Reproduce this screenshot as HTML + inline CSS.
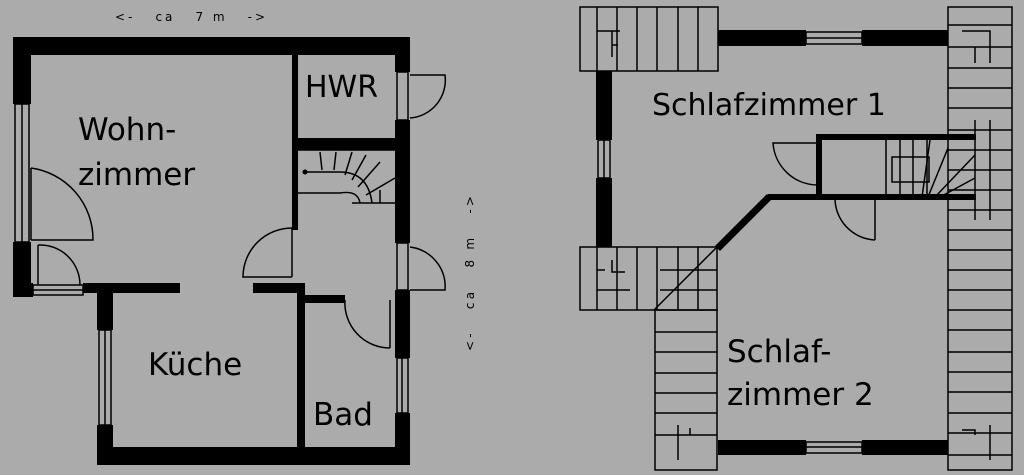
<!DOCTYPE html>
<html><head><meta charset="utf-8"><style>
html,body{margin:0;padding:0;background:#ababab;}
svg{display:block}
text{font-family:"DejaVu Sans","Liberation Sans",sans-serif;fill:#000}
</style></head><body>
<svg width="1024" height="475" viewBox="0 0 1024 475" xmlns="http://www.w3.org/2000/svg">
<rect width="1024" height="475" fill="#ababab"/>

<!-- LEFT PLAN -->
<g fill="#000">
<rect x="13" y="37" width="397" height="18"/>
<rect x="13" y="37" width="18" height="67"/>
<rect x="13" y="242" width="18" height="55"/>
<rect x="13" y="283" width="20" height="14"/>
<rect x="83" y="283" width="97" height="10"/>
<rect x="97" y="283" width="16" height="47"/>
<rect x="97" y="425" width="16" height="40"/>
<rect x="97" y="447" width="313" height="18"/>
<rect x="395" y="37" width="15" height="35"/>
<rect x="395" y="120" width="15" height="123"/>
<rect x="395" y="290" width="15" height="68"/>
<rect x="395" y="413" width="15" height="52"/>
<rect x="292" y="55" width="6" height="175"/>
<rect x="297" y="138" width="98" height="12"/>
<rect x="253" y="283" width="50" height="10"/>
<rect x="297" y="283" width="8" height="164"/>
<rect x="303" y="295" width="42" height="8"/>
</g>
<g fill="none" stroke="#000" stroke-width="1.5">
<rect x="15" y="104" width="14" height="138"/>
<line x1="22" y1="104" x2="22" y2="242"/>
<rect x="33" y="285" width="50" height="10"/>
<line x1="33" y1="290" x2="83" y2="290"/>
<rect x="99" y="330" width="12" height="95"/>
<line x1="105" y1="330" x2="105" y2="425"/>
<rect x="397" y="72" width="11" height="48"/>
<rect x="397" y="243" width="11" height="47"/>
<rect x="397" y="358" width="11" height="55"/>
<line x1="402" y1="358" x2="402" y2="413"/>
<line x1="31" y1="168" x2="31" y2="240"/>
<path d="M31 168 A72 72 0 0 1 93 240 L31 240"/>
<line x1="38" y1="245" x2="38" y2="285"/>
<path d="M38 245 A40 40 0 0 1 80 285"/>
<line x1="292" y1="228" x2="292" y2="277"/>
<path d="M292 228 A49 49 0 0 0 243 277 L292 277"/>
<path d="M410 75 L445 75 A38 38 0 0 1 410 118"/>
<path d="M410 247 A40 40 0 0 1 445 290 L410 290"/>
<line x1="390" y1="300" x2="390" y2="348"/>
<path d="M345 300 A45 45 0 0 0 390 348"/>
<line x1="298" y1="193" x2="340" y2="193"/>
<path d="M340 193 Q358 190 360 203"/>
<path d="M352 203 L395 203"/>
<path d="M298 150 L395 150"/>
<line x1="305" y1="172" x2="340" y2="172"/>
<path d="M340 172 Q368 172 372 203"/>
<line x1="320" y1="152" x2="322" y2="170"/>
<line x1="336" y1="152" x2="334" y2="170"/>
<line x1="352" y1="152" x2="345" y2="175"/>
<line x1="366" y1="155" x2="352" y2="180"/>
<line x1="380" y1="162" x2="358" y2="187"/>
<line x1="395" y1="178" x2="366" y2="195"/>
<line x1="380" y1="203" x2="380" y2="190"/>
</g>
<circle cx="305" cy="172" r="2.5" fill="#000"/>

<text x="115" y="21" font-size="12" textLength="150" lengthAdjust="spacing" xml:space="preserve">&lt;-   ca   7 m   -&gt;</text>
<text x="305" y="97" font-size="30">HWR</text>
<text x="78" y="140" font-size="31">Wohn-</text>
<text x="78" y="185" font-size="31">zimmer</text>
<text x="148" y="375" font-size="31">Küche</text>
<text x="313" y="425" font-size="31">Bad</text>
<text transform="translate(474,351) rotate(-90)" font-size="12" textLength="155" lengthAdjust="spacing" xml:space="preserve">&lt;-   ca   8 m   -&gt;</text>

<!-- RIGHT PLAN -->
<g fill="#000">
<rect x="718" y="30" width="88" height="16"/>
<rect x="862" y="30" width="86" height="16"/>
<rect x="718" y="440" width="88" height="15"/>
<rect x="862" y="440" width="86" height="15"/>
<rect x="596" y="71" width="16" height="69"/>
<rect x="596" y="178" width="16" height="69"/>
<rect x="816" y="134" width="160" height="6"/>
<rect x="816" y="134" width="6" height="63"/>
<rect x="768" y="194" width="208" height="6"/>
<polygon points="715,246 767,194 772,199 720,251"/>
</g>
<g fill="none" stroke="#000" stroke-width="1.5">
<rect x="806" y="32" width="56" height="12"/><line x1="806" y1="38" x2="862" y2="38"/>
<rect x="806" y="442" width="56" height="11"/><line x1="806" y1="447" x2="862" y2="447"/>
<rect x="598" y="140" width="12" height="38"/><line x1="604" y1="140" x2="604" y2="178"/>
<rect x="580" y="7" width="138" height="64"/>
<path d="M597 7V71M617 7V71M637 7V71M657 7V71M678 7V71M698 7V71"/>
<path d="M597 31H620M612 31V57M612 45H618"/>
<rect x="580" y="247" width="137" height="63"/>
<path d="M597 247V310M617 247V310M637 247V310M657 247V310M678 247V310M698 247V310"/>
<path d="M597 270H605M597 290H630M612 260V272H625M660 270H717M660 290H717"/>
<line x1="717" y1="247" x2="654" y2="310"/>
<rect x="655" y="310" width="62" height="160"/>
<path d="M655 332H717M655 352H717M655 373H717M655 393H717M655 413H717M655 435H717M678 425V460M690 428V435H698"/>
<rect x="948" y="7" width="64" height="463"/>
<path d="M948 25H1012M948 47H1012M948 68H1012M948 88H1012M948 108H1012M948 130H1012M948 150H1012M948 170H1012M948 190H1012M948 210H1012M948 230H1012M948 250H1012M948 270H1012M948 290H1012M948 310H1012M948 330H1012M948 352H1012M948 372H1012M948 392H1012M948 413H1012M948 433H1012M948 455H1012"/>
<path d="M962 31H990V63M975 47V63M975 120V220M990 120V220M962 430H975V435M990 425V460"/>
<path d="M886 140V197M900 140V197M913 140V197M927 140V197"/>
<rect x="892" y="157" width="37" height="25"/>
<path d="M930 140L922 197M948 148L928 197M975 155L935 197M975 178L940 197"/>
<path d="M818 143 L773 143 A45 45 0 0 0 818 185"/>
<line x1="875" y1="197" x2="875" y2="240"/>
<path d="M835 197 A42 42 0 0 0 875 240"/>
</g>
<text x="652" y="115" font-size="30">Schlafzimmer 1</text>
<text x="727" y="362" font-size="31">Schlaf-</text>
<text x="727" y="405" font-size="31">zimmer 2</text>
</svg>
</body></html>
